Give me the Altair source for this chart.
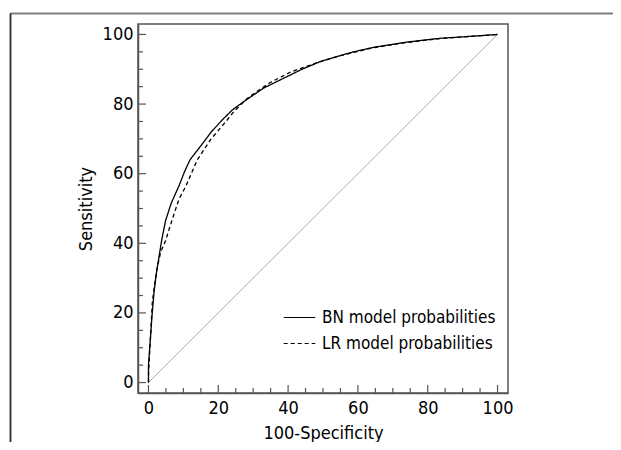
import altair as alt
import pandas as pd

# ROC curve points (x = 100-Specificity, y = Sensitivity)
bn_x = [0, 0, 0.5, 1.0, 1.6, 2.2, 3.0, 3.8, 4.9, 6.5, 8.7, 10.3, 11.9, 15.0, 18.0, 21.0, 24.0, 27.3, 33.0, 39.7, 44.0, 49.2, 54.9, 58.7, 64.5, 74.0, 83.5, 93.0, 100]
bn_y = [0, 5, 12, 19, 26, 31, 36, 41, 46.5, 51.5, 56.4, 60.5, 64.0, 68.0, 72.0, 75.3, 78.3, 80.7, 84.6, 87.9, 90.0, 92.2, 93.9, 95.0, 96.3, 97.8, 98.9, 99.5, 100]

lr_x = [0, 0, 0.3, 0.7, 1.1, 1.8, 2.6, 3.5, 4.8, 6.8, 8.7, 10.7, 14.0, 17.8, 22.6, 24.5, 28.7, 34.9, 40.7, 43.5, 49.2, 54.9, 64.5, 74.0, 83.5, 93.0, 100]
lr_y = [0, 2, 8, 15, 23, 28.5, 33.5, 37.5, 40.5, 46.8, 52.6, 56.4, 64.0, 69.8, 75.5, 77.9, 82.0, 86.2, 89.2, 90.2, 92.2, 93.9, 96.2, 97.7, 98.8, 99.5, 100]

diag_x = [0, 100]
diag_y = [0, 100]

series_names = ["BN model probabilities", "LR model probabilities"]
major_ticks = [0, 20, 40, 60, 80, 100]
minor_ticks = [v for v in range(5, 100, 5) if v % 20 != 0]

curves = pd.concat([
    pd.DataFrame({"x": bn_x, "y": bn_y, "model": series_names[0], "i": range(len(bn_x))}),
    pd.DataFrame({"x": lr_x, "y": lr_y, "model": series_names[1], "i": range(len(lr_x))}),
])
diag = pd.DataFrame({"x": diag_x, "y": diag_y})
major = pd.DataFrame({"t": major_ticks})
minor = pd.DataFrame({"t": minor_ticks})

FONT = "DejaVu Sans Condensed, Liberation Sans, sans-serif"
FS = 18
W, H = 370, 369
AX = "#555555"

xs = alt.Scale(domain=[-3, 103], nice=False, zero=False)
ys = alt.Scale(domain=[-3, 103], nice=False, zero=False)
xax = alt.Axis(values=major_ticks, title="100-Specificity", tickSize=0, labelPadding=6, titlePadding=7, grid=False)
yax = alt.Axis(values=major_ticks, title="Sensitivity", tickSize=0, labelPadding=5, titlePadding=7, grid=False)

def X(f):
    return alt.X(f"{f}:Q", scale=xs, axis=xax)

def Y(f):
    return alt.Y(f"{f}:Q", scale=ys, axis=yax)

diag_layer = alt.Chart(diag).mark_line(color="#aaaaaa", strokeWidth=1).encode(x=X("x"), y=Y("y"))

curve_layer = alt.Chart(curves).mark_line(color="black", strokeWidth=1.3).encode(
    x=X("x"), y=Y("y"), order="i:Q",
    strokeDash=alt.StrokeDash("model:N",
        scale=alt.Scale(domain=series_names, range=[[1, 0], [4, 3]]),
        legend=alt.Legend(title=None, orient="none", legendX=145, legendY=277,
                          symbolType="stroke", symbolSize=1000, symbolStrokeWidth=1.2,
                          symbolStrokeColor="black", labelFontSize=17, labelFont=FONT,
                          labelColor="black", labelOffset=6, labelLimit=300,
                          rowPadding=1, padding=0)),
)

xmaj = alt.Chart(major).mark_rule(color=AX, strokeWidth=1.2).encode(x=X("t"), y=alt.value(H), y2=alt.value(H - 8))
xmin = alt.Chart(minor).mark_rule(color=AX, strokeWidth=1.2).encode(x=X("t"), y=alt.value(H), y2=alt.value(H - 5))
ymaj = alt.Chart(major).mark_rule(color=AX, strokeWidth=1.2).encode(y=Y("t"), x=alt.value(0), x2=alt.value(8))
ymin = alt.Chart(minor).mark_rule(color=AX, strokeWidth=1.2).encode(y=Y("t"), x=alt.value(0), x2=alt.value(5))

# outer figure frame (decorative)
frame_top = alt.Chart(diag).mark_rule(color="#777777", strokeWidth=1.5).encode(
    x=alt.value(-127.5), x2=alt.value(W + 120), y=alt.value(-10.5))
frame_left = alt.Chart(diag).mark_rule(color="#333333", strokeWidth=1.5).encode(
    x=alt.value(-127.5), y=alt.value(-10.5), y2=alt.value(H + 60))

chart = alt.layer(diag_layer, curve_layer, xmaj, xmin, ymaj, ymin, frame_top, frame_left).properties(
    width=W, height=H,
    autosize=alt.AutoSizeParams(type="none"),
    padding={"left": 130, "top": 16, "right": 105, "bottom": 49},
).configure_view(
    stroke=AX, strokeWidth=1.5
).configure_axis(
    labelFont=FONT, labelFontSize=FS, labelColor="black",
    titleFont=FONT, titleFontSize=FS, titleFontWeight="normal", titleColor="black",
    domainColor=AX, domainWidth=1.5,
)

chart.save("out.html", embed_options={"renderer": "svg", "actions": False})
